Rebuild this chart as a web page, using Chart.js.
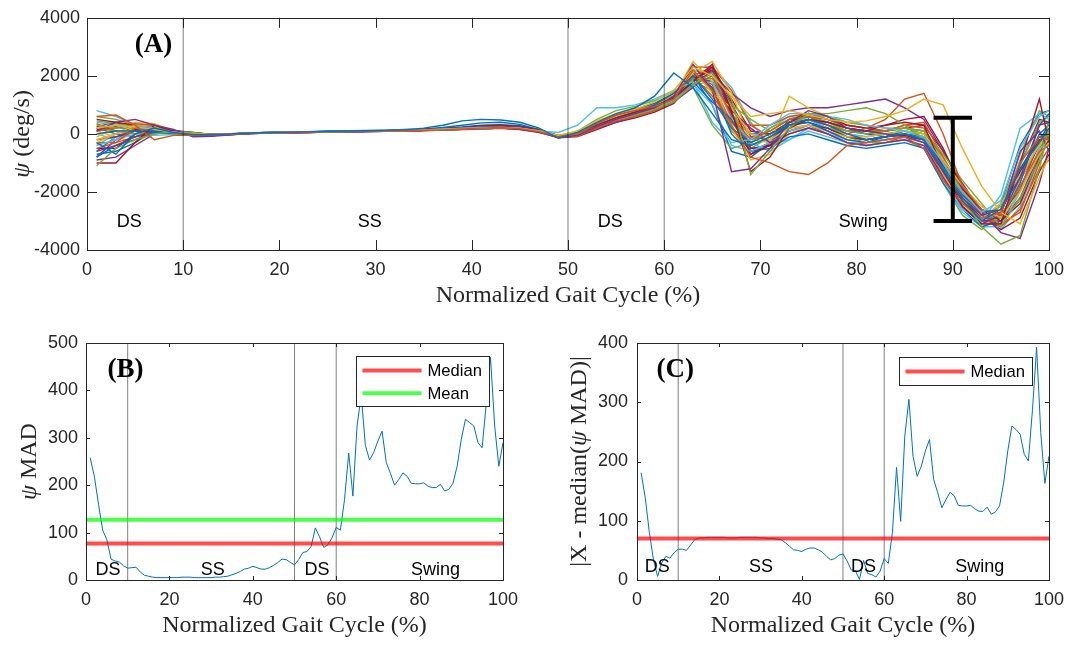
<!DOCTYPE html>
<html>
<head>
<meta charset="utf-8">
<script src="https://cdn.jsdelivr.net/npm/chart.js@4.4.1/dist/chart.umd.min.js"></script>
<style>
  html, body { margin: 0; padding: 0; background: #fff; }
  body { width: 1073px; height: 645px; position: relative; overflow: hidden; }
  .pane { position: absolute; }
</style>
</head>
<body>
<div class="pane" style="left:0;top:0;width:1073px;height:315px"><canvas id="chart-a"></canvas></div>
<div class="pane" style="left:0;top:320px;width:540px;height:325px"><canvas id="chart-b"></canvas></div>
<div class="pane" style="left:540px;top:320px;width:533px;height:325px"><canvas id="chart-c"></canvas></div>
<script>
// ---- data: panel A, gait cycles (deg/s) sampled at gaitXs ----
const gaitXs = [1,3,5,7,9,11,13,15,17,19,21,23,25,27,29,31,33,35,37,39,41,43,45,47,49,51,53,55,57,59,61,63,65,67,69,71,73,75,77,79,81,83,85,87,89,91,93,95,97,99,100];

const cycle01 = [-300,-700,0,200,50,-20,-30,0,30,50, 60,70,90,100,110,120,140,200,300,450, 500,480,400,200,-150,50,400,700,900,1300, 2100,1600,700,-200,-400,-100,300,500,300,0, -200,-100,0,-200,-1200,-2300,-3000,-2600,-1200,-300, 200];
const cycle02 = [600,650,300,-200,-50,-50,-40,-10,20,40, 50,60,70,80,90,100,110,120,140,170, 200,220,180,80,-100,0,350,650,800,950, 1200,2200,1500,300,-800,-1000,-1300,-1400,-1000,-400, -300,-200,-100,-500,-1600,-2400,-2900,-2700,-1000,-100, -200];
const cycle03 = [200,300,250,150,60,0,-20,0,20,40, 50,60,70,80,90,100,110,130,150,180, 200,220,200,100,-50,100,450,700,850,1100, 1500,2300,2000,1300,600,700,800,650,500,400, 450,600,800,1200,1000,-500,-1800,-2700,-3100,-1500, -800];
const cycle04 = [100,400,500,300,150,-100,-80,-30,10,30, 40,50,60,70,80,90,100,120,140,160, 180,200,150,50,-120,-50,250,500,700,900, 1300,2400,1500,-1300,-1200,-500,400,800,600,200, 100,0,-100,-300,-1300,-2200,-2800,-2600,-1500,300, 400];
const cycle05 = [-1100,-500,-200,0,80,50,-30,0,20,40, 50,60,70,80,90,100,110,120,140,160, 180,200,180,100,-80,-20,250,500,650,850, 1100,1700,2100,1200,-1400,-600,200,700,700,800, 900,700,300,-200,-1200,-2200,-3200,-3800,-3500,-1200, 200];
const cycle06 = [800,600,300,200,40,0,-30,0,30,50, 60,70,80,90,100,110,120,140,170,200, 220,230,200,100,50,300,900,900,1000,1200, 1500,1800,400,-300,-200,300,700,700,600,500, 300,200,100,-100,-1000,-2000,-2700,-2300,-500,600, 800];
const cycle07 = [-1000,-1000,-300,300,100,50,-20,0,20,40, 50,60,70,80,90,100,110,130,150,180, 220,250,220,120,-100,-20,300,550,750,950, 1250,1800,2400,800,-1300,-800,200,500,400,200, 100,300,400,300,-1200,-2500,-3100,-3100,-1000,1200, -300];
const cycle08 = [0,100,100,100,30,-30,-40,-10,20,40, 50,60,70,80,90,100,110,130,160,200, 250,260,230,120,-80,-20,300,550,750,1000, 1400,2000,1200,200,-300,0,300,400,100,-200, -300,-100,0,-200,-1300,-2100,-2700,-2600,-1200,-100, 0];
const cycle09 = [-500,-300,200,300,20,-40,-50,-20,10,30, 40,50,60,70,80,90,100,120,140,170, 200,220,190,90,-100,-80,200,450,600,800, 1100,1700,2000,600,-200,100,500,600,300,0, 200,500,1200,1400,0,-1800,-2600,-2800,-1800,-600, -400];
const cycle10 = [-200,0,300,250,60,20,-20,0,20,40, 50,60,70,80,90,100,110,120,140,160, 180,200,180,80,-70,0,350,600,800,1000, 1300,2200,1400,900,0,-200,200,300,100,-100, -100,0,100,0,-900,-1800,-2500,-2900,-2000,-700, -300];
const cycle11 = [-600,-400,-100,100,120,50,-60,-20,10,30, 40,50,60,70,80,90,100,120,140,170, 190,210,180,70,-120,-60,200,400,600,800, 1100,1600,2200,800,200,-300,0,200,0,-300, -400,-300,-200,-400,-1500,-2500,-3100,-2800,-600,100, -600];
const cycle12 = [300,200,200,200,40,0,-30,0,30,50, 60,70,80,90,100,110,120,140,160,190, 210,230,200,110,-60,0,300,550,700,900, 1200,1900,1900,1000,500,100,500,700,600,400, 300,200,200,100,-700,-1600,-2400,-3200,-2200,-900, 500];
const cycle13 = [400,300,200,150,30,-10,-30,0,20,40, 50,60,70,80,90,100,110,120,140,160, 180,200,170,80,-90,-30,250,500,650,850, 1150,1700,1000,-400,-600,-300,100,300,100,-300, -400,-300,-200,-400,-1600,-2600,-3000,-2100,200,700, 500];
const cycle14 = [500,400,300,200,70,30,-20,10,30,50, 60,70,80,90,100,110,130,150,180,220, 280,300,260,140,-60,-10,300,600,800,1000, 1300,1900,2200,700,-700,-400,400,700,600,300, 200,300,500,600,-500,-1900,-2600,-3000,-2400,-800, -200];
const cycle15 = [-800,-400,-200,50,20,20,-20,0,20,40, 50,60,70,80,90,100,120,160,220,300, 380,400,330,150,-100,-50,200,500,700,950, 1250,1800,1100,500,-600,-500,-100,0,-200,-400, -500,-400,-300,-500,-1700,-2600,-3200,-3000,-1700,300, 700];
const cycle16 = [100,200,350,300,50,20,-20,0,20,40, 50,60,70,80,90,100,110,120,140,160, 190,200,170,70,-90,-40,300,550,750,950, 1250,2000,1300,400,300,300,600,700,500,300, 200,100,300,400,-800,-2000,-2800,-3200,-2600,-1200, -900];
const cycle17 = [-300,0,200,250,90,30,-30,0,20,40, 50,60,70,80,90,100,110,130,150,180, 210,220,200,100,-70,-10,300,600,750,1000, 1350,2100,2500,1400,-200,-300,1300,900,600,400, 300,200,100,-100,-1400,-2400,-2900,-2400,-1400,-400, 100];
const cycle18 = [-200,-100,100,200,30,0,-30,0,20,40, 50,60,70,80,90,100,110,120,140,170, 190,210,190,90,-80,-20,280,520,700,900, 1200,1800,2100,1400,900,600,800,900,900,1000, 1100,1200,900,500,-600,-1700,-2700,-3400,-3600,-1700, -500];
const cycle19 = [200,100,0,50,0,-20,-30,0,20,40, 50,60,70,80,90,100,110,130,150,180, 200,220,190,90,-80,100,500,800,950,1150, 1450,1600,300,-500,-300,200,500,600,400,100, 0,100,200,0,-1000,-2100,-2800,-2500,-700,800, 600];
const cycle20 = [-400,-200,0,-50,-20,0,-40,-10,20,40, 50,60,70,80,90,100,110,120,140,170, 200,220,200,100,-90,-30,250,500,650,850, 1150,1700,1800,600,-300,-600,-200,100,-100,-300, -300,-200,-100,-300,-1700,-2700,-3200,-3200,-2000,-500, -300];
const cycle21 = [150,250,100,50,30,-40,-50,-20,10,30, 40,50,60,70,80,90,100,110,130,150, 170,190,160,60,-130,-90,150,400,550,750, 1050,1800,2300,1100,-500,-400,100,300,200,-100, -200,-100,-50,-200,-1400,-2300,-2900,-2700,-1300,-200, -400];
const cycle22 = [-700,-600,-300,150,100,30,-10,10,30,60, 70,80,100,110,120,130,150,170,200,240, 300,320,280,150,-50,60,350,650,850,1050, 1400,2100,1600,0,-700,-300,500,600,400,200, 0,-100,100,-100,-1100,-2200,-2900,-2900,-1500,0, 300];
const cycle23 = [350,100,-100,0,50,10,-30,0,20,40, 50,60,70,80,90,100,110,120,140,170, 190,210,180,90,-80,-30,280,520,680,900, 1200,2000,2300,1500,300,-100,300,500,300,100, 0,100,300,200,-900,-2000,-2800,-3100,-2700,-1000, -500];
const cycle24 = [-100,200,400,350,100,0,-40,-10,20,40, 50,60,70,80,90,100,110,120,140,160, 180,200,170,80,-80,-20,320,580,760,980, 1300,2500,1800,200,-900,-700,0,300,100,-200, -300,-200,-100,-300,-1400,-2400,-3100,-2900,-1600,-300, 100];
const cycle25 = [-900,-800,-400,0,60,20,-30,0,20,40, 50,60,70,80,90,100,110,130,150,180, 200,220,200,100,-100,-40,260,520,700,920, 1250,1900,2200,1000,-100,-200,300,500,400,200, 100,0,100,0,-1100,-2200,-3000,-3000,-2200,-700, 200];
const cycle26 = [600,500,300,100,0,-60,-50,-10,20,40, 50,60,70,80,90,100,110,130,150,180, 210,220,190,90,-110,-50,250,500,650,850, 1150,1800,1500,100,-500,-100,400,600,300,-100, -300,-300,-200,-500,-1700,-2800,-3300,-2700,-1100,400, 600];
const cycle27 = [0,-200,100,200,70,0,-30,0,20,40, 50,60,70,80,90,100,110,120,140,170, 190,210,190,90,-80,-10,300,560,740,960, 1300,2200,2100,500,-300,200,600,500,200,0, -100,0,0,-200,-1200,-2200,-2800,-2600,-900,300, 400];
const cycle28 = [-500,-500,0,200,90,20,-30,0,20,40, 50,60,70,80,90,100,110,120,140,160, 180,200,170,80,-90,-30,300,560,740,960, 1300,2300,2300,1200,100,0,400,600,500,300, 200,100,200,300,-600,-1800,-2700,-3300,-2900,-1300, -700];
const cycle29 = [200,0,-100,100,60,20,-30,0,20,40, 50,60,70,80,90,100,110,120,140,170, 200,220,190,90,-70,0,320,600,780,1000, 1350,2000,1000,-600,-800,-300,300,400,200,-100, -200,-100,0,-100,-1300,-2400,-3000,-2400,-400,700, 800];
const cycle30 = [-300,-300,-100,150,50,0,-30,0,20,40, 50,60,70,80,90,100,110,120,140,170, 190,210,180,80,-90,-30,270,520,700,900, 1200,2000,1700,400,-400,-100,200,300,0,-300, -400,-300,-100,-300,-1500,-2500,-3100,-3100,-1900,-200, -100];
const cycle31 = [100,-100,-300,50,40,0,-30,0,20,40, 50,60,70,80,90,100,110,120,140,170, 200,220,190,90,-80,-20,300,550,720,940, 1250,2100,2000,900,-100,0,400,600,400,100, 0,0,100,-100,-1000,-2000,-2700,-2900,-1500,-300, -100];
const cycle32 = [-800,-200,200,100,40,0,-30,0,20,40, 50,60,70,80,90,100,110,120,140,170, 190,210,180,90,-80,-20,280,540,720,940, 1250,1900,1800,700,-500,-400,0,200,0,-300, -300,-200,-100,-200,-1300,-2300,-3000,-2900,-1600,-400, 200];
const cycle33 = [450,350,250,250,90,10,-30,0,20,40, 50,60,70,80,90,100,110,120,140,170, 190,210,180,90,-80,-20,330,620,800,1020, 1350,2200,2000,700,-100,100,500,700,500,200, 100,100,200,100,-800,-1900,-2700,-3000,-2300,-500, 0];
const cycle34 = [-400,0,350,200,60,10,-30,0,20,40, 50,60,70,80,90,100,110,120,140,170, 200,220,190,90,-90,-20,280,530,700,900, 1200,1600,2300,1600,400,-400,-200,200,200,0, -100,0,0,-200,-1300,-2300,-2900,-3300,-2500,-900, -200];
const cycle35 = [250,400,150,100,70,0,-30,0,20,40, 50,60,70,80,90,100,110,120,140,170, 200,220,190,90,-80,-20,300,560,740,960, 1300,2100,1600,200,-600,-300,300,500,200,-100, -200,-100,0,-100,-1200,-2300,-2900,-2700,-1000,500, 400];
const cycle36 = [-600,-100,100,300,80,20,-30,0,20,40, 50,60,70,80,90,100,110,120,140,170, 190,210,190,90,-80,-20,270,520,700,920, 1250,2000,1800,900,0,0,400,500,300,100, 100,100,200,100,-1000,-2100,-2800,-2800,-1900,-300, 400];

const gaitCycles = [cycle01, cycle02, cycle03, cycle04, cycle05, cycle06, cycle07, cycle08, cycle09, cycle10,
  cycle11, cycle12, cycle13, cycle14, cycle15, cycle16, cycle17, cycle18, cycle19, cycle20,
  cycle21, cycle22, cycle23, cycle24, cycle25, cycle26, cycle27, cycle28, cycle29, cycle30,
  cycle31, cycle32, cycle33, cycle34, cycle35, cycle36];

// error bar in panel A
const errBarX = 90;
const errBarTop = 560;
const errBarBottom = -3000;
const errBarCap = 2;

// ---- data: panels B and C, one value per % of cycle ----
const gaitPct = Array.from({ length: 100 }, (_, i) => i + 1);

const madValues = [258,219,160,105,85,44,40,38,30,25, 26,27,17,10,8,6,5,5,5,5,
  5,5,6,6,6,5,5,5,5,5, 6,6,7,8,11,14,18,23,25,29, 26,23,23,26,31,37,44,43,37,32,
  43,58,60,71,110,91,69,74,89,111, 105,170,268,177,325,390,284,253,269,293,
  314,248,225,200,212,226,219,204,203,203, 205,198,195,195,202,188,191,204,240,297,
  339,332,325,290,279,374,470,325,240,290];
const madMedian = 77;
const madMean = 127;

const devValues = [181,139,80,34,6,29,40,37,46,52, 52,50,59,68,71,71,72,72,72,72,
  72,71,71,71,72,72,72,72,72,71, 71,70,70,69,68,63,57,51,50,48, 52,54,54,51,47,40,34,36,42,44,
  32,17,16,1,33,11,9,5,15,36, 28,80,190,99,243,305,209,175,192,218,
  237,170,147,122,136,148,142,126,125,125, 126,120,116,116,123,111,115,125,164,218,
  260,254,246,212,201,288,393,249,163,209];
const devMedian = 70;

// gait phases
const phaseBounds = [10, 50, 60];
const phaseNames = ['DS', 'SS', 'DS', 'Swing'];
const phaseNameXA = [4.4, 29.4, 54.4, 80.7];
const phaseNameXB = [5.3, 30.4, 55.4, 83.8];
const phaseNameXC = [4.9, 30.1, 55, 83.2];

// ---- styles ----
const SANS = "'Liberation Sans', Arial, sans-serif";
const SERIF = "'Liberation Serif', 'Times New Roman', serif";
const AXIS_COLOR = '#262626';
const PHASE_COLOR = 'rgba(0,0,0,0.5)';
const MATLAB_COLORS = ['#0072BD', '#D95319', '#EDB120', '#7E2F8E', '#77AC30', '#4DBEEE', '#A2142F'];
const RED = 'rgba(255,0,0,0.7)';
const GREEN = 'rgba(0,255,0,0.7)';

function pts(xs, ys) {
  return xs.map((x, i) => ({ x, y: ys[i] }));
}

function lineDs(data, color, width, order) {
  return { data, borderColor: color, borderWidth: width, pointRadius: 0, fill: false, tension: 0, order, borderCapStyle: 'butt' };
}

function drawRotated(ctx, parts, cx, cy, size) {
  ctx.save();
  ctx.translate(cx, cy);
  ctx.rotate(-Math.PI / 2);
  const fonts = parts.map((p) => `${p.italic ? 'italic ' : ''}${size}px ${SERIF}`);
  let total = 0;
  const widths = parts.map((p, i) => {
    ctx.font = fonts[i];
    const w = ctx.measureText(p.text).width;
    total += w;
    return w;
  });
  let xx = -total / 2;
  ctx.textAlign = 'left';
  ctx.textBaseline = 'middle';
  ctx.fillStyle = AXIS_COLOR;
  parts.forEach((p, i) => {
    ctx.font = fonts[i];
    ctx.fillText(p.text, xx, 0);
    xx += widths[i];
  });
  ctx.restore();
}

// box, inward ticks, titles, in-plot labels and legend (MATLAB look)
const matlabAxes = {
  id: 'matlabAxes',
  afterDraw(chart, args, o) {
    const { ctx, chartArea: a, scales: { x, y } } = chart;
    ctx.save();
    ctx.strokeStyle = AXIS_COLOR;
    ctx.lineWidth = 1;
    ctx.beginPath();
    x.ticks.forEach((t) => {
      const px = Math.round(x.getPixelForValue(t.value)) + 0.5;
      ctx.moveTo(px, a.bottom); ctx.lineTo(px, a.bottom - o.tickLen);
      ctx.moveTo(px, a.top); ctx.lineTo(px, a.top + o.tickLen);
    });
    y.ticks.forEach((t) => {
      const py = Math.round(y.getPixelForValue(t.value)) + 0.5;
      ctx.moveTo(a.left, py); ctx.lineTo(a.left + o.tickLen, py);
      ctx.moveTo(a.right, py); ctx.lineTo(a.right - o.tickLen, py);
    });
    ctx.stroke();
    ctx.strokeRect(Math.round(a.left) + 0.5, Math.round(a.top) + 0.5, Math.round(a.width), Math.round(a.height));

    // phase names
    ctx.fillStyle = '#000';
    ctx.font = `18px ${SANS}`;
    ctx.textAlign = 'center';
    ctx.textBaseline = 'middle';
    phaseNames.forEach((n, i) => {
      ctx.fillText(n, x.getPixelForValue(o.phaseX[i]), y.getPixelForValue(o.phaseY));
    });

    // panel tag
    ctx.font = `bold 27px ${SERIF}`;
    ctx.fillText(o.tag.text, x.getPixelForValue(o.tag.x), y.getPixelForValue(o.tag.y));

    // x title
    ctx.fillStyle = AXIS_COLOR;
    ctx.font = `24px ${SERIF}`;
    ctx.fillText('Normalized Gait Cycle (%)', (a.left + a.right) / 2, a.bottom + 46);

    // y title
    drawRotated(ctx, o.yTitle, o.yTitleX, (a.top + a.bottom) / 2, 24);

    // legend
    if (o.legend) {
      const L = o.legend;
      const bx = Math.round(a.right - L.right - L.width) + 0.5;
      const by = Math.round(a.top + L.top) + 0.5;
      ctx.fillStyle = '#fff';
      ctx.fillRect(bx, by, L.width, L.height);
      ctx.strokeStyle = AXIS_COLOR;
      ctx.lineWidth = 1;
      ctx.strokeRect(bx, by, L.width, L.height);
      ctx.font = `16.6px ${SANS}`;
      ctx.textAlign = 'left';
      L.items.forEach((it, i) => {
        const ly = by + 14 + i * 22.7;
        ctx.strokeStyle = it.color;
        ctx.lineWidth = 4;
        ctx.beginPath();
        ctx.moveTo(bx + 6, ly);
        ctx.lineTo(bx + 65, ly);
        ctx.stroke();
        ctx.fillStyle = '#000';
        ctx.fillText(it.label, bx + 71, ly + 1);
      });
    }
    ctx.restore();
  },
};

function axisOpts(min, max, step, pad, fit) {
  return {
    type: 'linear',
    min, max,
    ticks: {
      stepSize: step,
      padding: pad,
      maxRotation: 0,
      color: AXIS_COLOR,
      font: { family: SANS, size: 18 },
      callback: (v) => String(v),
    },
    grid: { display: false, drawTicks: false },
    border: { display: false },
    afterFit: fit,
  };
}

function makeChart(id, datasets, cfg) {
  return new Chart(document.getElementById(id), {
    type: 'line',
    data: { datasets },
    options: {
      responsive: true,
      maintainAspectRatio: false,
      animation: false,
      events: [],
      layout: { padding: { top: cfg.padTop, right: cfg.padRight, left: 0, bottom: 0 } },
      plugins: { legend: { display: false }, tooltip: { enabled: false }, matlabAxes: cfg.axes },
      scales: {
        x: axisOpts(0, 100, cfg.xStep, 9, (s) => { s.height = 65; }),
        y: axisOpts(cfg.yMin, cfg.yMax, cfg.yStep, cfg.yPad, (s) => { s.width = cfg.yWidth; }),
      },
    },
    plugins: [matlabAxes],
  });
}

function phaseLines(yMin, yMax, order) {
  return phaseBounds.map((b) => lineDs([{ x: b, y: yMin }, { x: b, y: yMax }], PHASE_COLOR, 1, order));
}

// ---- panel A ----
const dsA = gaitCycles.map((c, i) => lineDs(pts(gaitXs, c), MATLAB_COLORS[i % MATLAB_COLORS.length], 1.4, 2 + i));
dsA.push(...phaseLines(-4000, 4000, 1));
dsA.push(lineDs([{ x: errBarX, y: errBarBottom }, { x: errBarX, y: errBarTop }], '#000', 4, 0));
dsA.push(lineDs([{ x: errBarX - errBarCap, y: errBarTop }, { x: errBarX + errBarCap, y: errBarTop }], '#000', 4, 0));
dsA.push(lineDs([{ x: errBarX - errBarCap, y: errBarBottom }, { x: errBarX + errBarCap, y: errBarBottom }], '#000', 4, 0));

makeChart('chart-a', dsA, {
  padTop: 13, padRight: 19, yWidth: 87, yPad: 7,
  yMin: -4000, yMax: 4000, yStep: 2000, xStep: 10,
  axes: {
    tickLen: 10,
    phaseX: phaseNameXA, phaseY: -3040,
    tag: { text: '(A)', x: 6.9, y: 3055 },
    yTitle: [{ text: 'ψ', italic: true }, { text: ' (deg/s)' }],
    yTitleX: 23,
  },
});

// ---- panel B ----
makeChart('chart-b', [
  lineDs([{ x: 0, y: madMedian }, { x: 100, y: madMedian }], RED, 4, 0),
  lineDs([{ x: 0, y: madMean }, { x: 100, y: madMean }], GREEN, 4, 0),
  lineDs(pts(gaitPct, madValues), '#0072BD', 1, 1),
  ...phaseLines(0, 500, 2),
], {
  padTop: 23, padRight: 37, yWidth: 86, yPad: 8,
  yMin: 0, yMax: 500, yStep: 100, xStep: 20,
  axes: {
    tickLen: 4,
    phaseX: phaseNameXB, phaseY: 21,
    tag: { text: '(B)', x: 9.5, y: 443 },
    yTitle: [{ text: 'ψ', italic: true }, { text: ' MAD' }],
    yTitleX: 30,
    legend: { right: 14, top: 13, width: 133, height: 50, items: [{ label: 'Median', color: RED }, { label: 'Mean', color: GREEN }] },
  },
});

// ---- panel C ----
makeChart('chart-c', [
  lineDs([{ x: 0, y: devMedian }, { x: 100, y: devMedian }], RED, 4, 0),
  lineDs(pts(gaitPct, devValues), '#0072BD', 1, 1),
  ...phaseLines(0, 400, 2),
], {
  padTop: 23, padRight: 18, yWidth: 97, yPad: 9,
  yMin: 0, yMax: 400, yStep: 100, xStep: 20,
  axes: {
    tickLen: 4,
    phaseX: phaseNameXC, phaseY: 22,
    tag: { text: '(C)', x: 9.3, y: 354 },
    yTitle: [{ text: '|X - median(' }, { text: 'ψ', italic: true }, { text: ' MAD)|' }],
    yTitleX: 40,
    legend: { right: 17, top: 14, width: 133, height: 28, items: [{ label: 'Median', color: RED }] },
  },
});
</script>
</body>
</html>
